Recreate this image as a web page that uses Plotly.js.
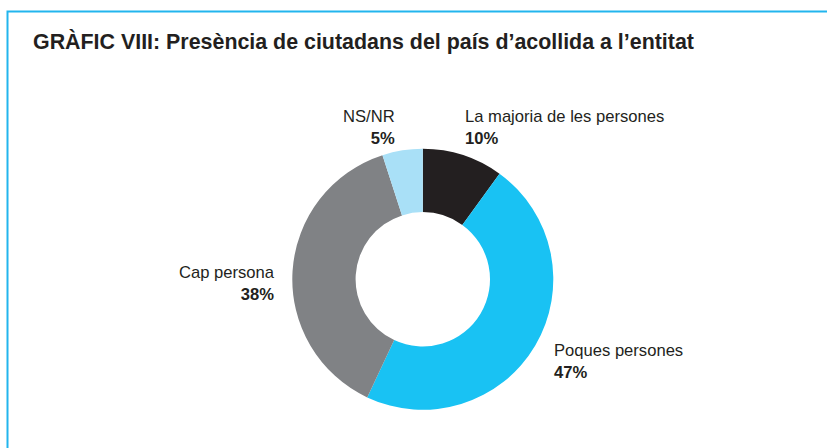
<!DOCTYPE html>
<html>
<head>
<meta charset="utf-8">
<script src="https://cdn.plot.ly/plotly-3.0.1.min.js"></script>
<style>
  html, body { margin: 0; padding: 0; background: #ffffff; }
  #chart { width: 827px; height: 448px; }
</style>
</head>
<body>
<div id="chart"></div>
<script>
const categories = ["La majoria de les persones", "Poques persones", "Cap persona", "NS/NR"];
const values = [10, 47, 38, 5];
const colors = ["#231f20", "#19c2f3", "#808285", "#a9e0f7"];
const titleText = "GRÀFIC VIII: Presència de ciutadans del país d’acollida a l’entitat";

// label placement (pixels) and alignment, one per category
const labelPos = [
  {x: 462.5, y: 105, xa: "left", align: "left"},
  {x: 551.5, y: 339, xa: "left", align: "left"},
  {x: 277, y: 261, xa: "right", align: "right"},
  {x: 397, y: 105, xa: "right", align: "right"}
];

const W = 827, H = 448;
const cx = 422.8, cy = 279.3, R = 130.5;
const half = R / H;
const yc = 1 - cy / H;
const xc = cx / W;

const trace = {
  type: "pie",
  labels: categories,
  values: values,
  sort: false,
  direction: "clockwise",
  rotation: 0,
  hole: 0.515,
  marker: {colors: colors, line: {width: 0}},
  textinfo: "none",
  hoverinfo: "label+percent",
  showlegend: false,
  domain: {x: [xc - 0.3, xc + 0.3], y: [yc - half, yc + half]}
};

const annotations = categories.map((c, i) => ({
  xref: "paper", yref: "paper",
  x: labelPos[i].x / W, y: 1 - labelPos[i].y / H,
  xanchor: labelPos[i].xa, yanchor: "top",
  align: labelPos[i].align,
  showarrow: false,
  text: c + "<br><b>" + values[i] + "%</b>",
  font: {family: "Liberation Sans, Arial, sans-serif", size: 16.6, color: "#231f20"}
}));

const layout = {
  width: W, height: H,
  margin: {l: 0, r: 0, t: 0, b: 0},
  paper_bgcolor: "#ffffff",
  title: {
    text: "<b>" + titleText + "</b>",
    x: 33 / W, xanchor: "left", xref: "paper",
    y: 1 - 42 / H, yanchor: "middle", yref: "container",
    font: {family: "Liberation Sans, Arial, sans-serif", size: 21.4, color: "#231f20"}
  },
  annotations: annotations,
  shapes: [{
    type: "rect", xref: "paper", yref: "paper",
    x0: 7.5 / W, x1: 1.05, y0: -0.05, y1: 1 - 11.5 / H,
    line: {color: "#22b5ee", width: 2}, fillcolor: "rgba(0,0,0,0)"
  }]
};

Plotly.newPlot("chart", [trace], layout, {displayModeBar: false, staticPlot: true});
</script>
</body>
</html>
